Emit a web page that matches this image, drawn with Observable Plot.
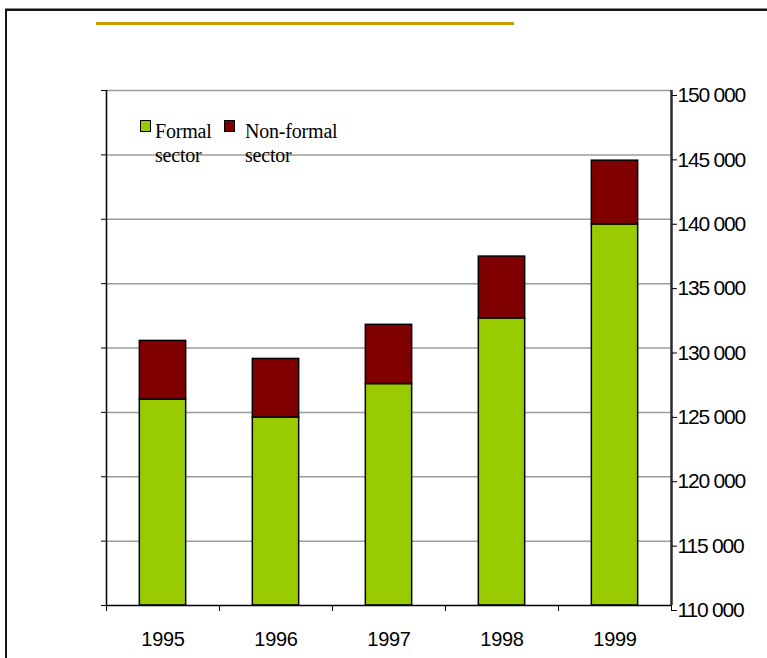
<!DOCTYPE html>
<html>
<head>
<meta charset="utf-8">
<script src="https://cdn.jsdelivr.net/npm/d3@7"></script>
<script src="https://cdn.jsdelivr.net/npm/@observablehq/plot@0.6"></script>
<style>
  html, body { margin: 0; padding: 0; background: #fff; overflow: hidden; }
  #page { position: relative; width: 767px; height: 658px; overflow: hidden; }
  #frame { position: absolute; left: 5px; top: 9px; width: 820px; height: 720px;
           border-top: 2px solid #151515; border-left: 2px solid #151515; box-shadow: 0 -1px 0 #888; }
  #rule { position: absolute; left: 96px; top: 22px; width: 418px; height: 3px; background: #cc9900; }
  #chart { position: absolute; left: 0; top: 0; }
  #chart g[aria-label="y-axis tick label"] text { letter-spacing: -1.2px; }
  #chart g[aria-label="x-axis tick label"] text { letter-spacing: -0.3px; }
  .legend { position: absolute; font-family: "Liberation Serif", "Times New Roman", serif;
            font-size: 20px; line-height: 24px; color: #000; letter-spacing: -0.2px; }
  .swatch { position: absolute; box-sizing: border-box; width: 11px; height: 12px; border: 1.5px solid #000; }
</style>
</head>
<body>
<div id="page">
  <div id="frame"></div>
  <div id="rule"></div>
  <div id="chart"></div>
</div>
<script>
// Employment by sector, 1995–1999
const years = [1995, 1996, 1997, 1998, 1999];
const formal = [126000, 124600, 127200, 132300, 139600];
const nonFormal = [4550, 4550, 4600, 4800, 4950];
const yTicks = [110000, 115000, 120000, 125000, 130000, 135000, 140000, 145000, 150000];
const seriesNames = ["Formal\nsector", "Non-formal\nsector"];
const seriesColors = ["#99cc00", "#800000"];

const yMin = yTicks[0];
const yMax = yTicks[yTicks.length - 1];
const rows = years.map((year, i) => ({
  year,
  formal: formal[i],
  total: formal[i] + nonFormal[i]
}));
const boundaries = [...years.map(y => y - 0.5), years[years.length - 1] + 0.5];
const halfBar = 0.205;
const fmt = d => d3.format(",")(d).replace(/,/g, " ");

const plot = Plot.plot({
  width: 767,
  height: 658,
  marginLeft: 106,
  marginRight: 96,
  marginTop: 90,
  marginBottom: 53,
  style: {
    fontFamily: "'Liberation Sans', Arial, sans-serif",
    fontSize: "19px",
    color: "#000",
    background: "transparent",
    overflow: "visible"
  },
  x: { type: "linear", domain: [boundaries[0], boundaries[boundaries.length - 1]] },
  y: { domain: [yMin, yMax] },
  marks: [
    // horizontal gridlines
    Plot.ruleY(yTicks.filter(v => v > yMin), { stroke: "#9c9c9c", strokeWidth: 1.5 }),
    // formal sector (bottom segment)
    Plot.rectY(rows, {
      x1: d => d.year - halfBar, x2: d => d.year + halfBar,
      y1: yMin, y2: "formal",
      fill: seriesColors[0], stroke: "#000", strokeWidth: 1.5
    }),
    // non-formal sector (stacked on top)
    Plot.rectY(rows, {
      x1: d => d.year - halfBar, x2: d => d.year + halfBar,
      y1: "formal", y2: "total",
      fill: seriesColors[1], stroke: "#000", strokeWidth: 1.5
    }),
    // axis lines
    Plot.ruleX([boundaries[0]], { stroke: "#000", strokeWidth: 1.5 }),
    Plot.ruleX([boundaries[boundaries.length - 1]], { stroke: "#2a2a2a", strokeWidth: 2.5 }),
    Plot.ruleY([yMin], { stroke: "#000", strokeWidth: 1.5 }),
    // left tick marks (no labels)
    Plot.axisY({ anchor: "left", ticks: yTicks, tickSize: 5, tickFormat: () => "", label: null }),
    // right value axis
    Plot.axisY({
      anchor: "right", ticks: yTicks, tickSize: 5, tickPadding: 1,
      tickFormat: fmt, dy: 5, fontSize: 21, label: null
    }),
    // year labels
    Plot.axisX({
      ticks: years, tickSize: 0, tickPadding: 26,
      tickFormat: d => String(d), fontSize: 20, label: null
    }),
    // category boundary ticks
    Plot.axisX({ ticks: boundaries, tickSize: 6, tickFormat: () => "", label: null })
  ]
});

const page = document.getElementById("page");
document.getElementById("chart").appendChild(plot);

// legend, top-left inside the plot area
const legendPos = [{ sx: 140, tx: 155 }, { sx: 224, tx: 245 }];
seriesNames.forEach((name, i) => {
  const sw = document.createElement("div");
  sw.className = "swatch";
  sw.style.left = legendPos[i].sx + "px";
  sw.style.top = "120px";
  sw.style.background = seriesColors[i];
  page.appendChild(sw);
  const lab = document.createElement("div");
  lab.className = "legend";
  lab.style.left = legendPos[i].tx + "px";
  lab.style.top = "119px";
  lab.innerHTML = name.split("\n").join("<br>");
  page.appendChild(lab);
});
</script>
</body>
</html>
